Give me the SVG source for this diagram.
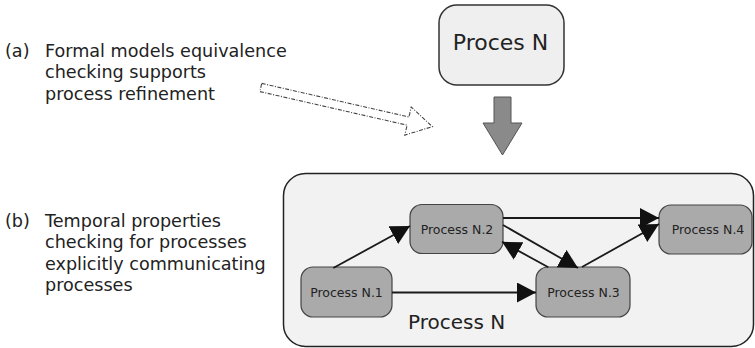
<svg xmlns="http://www.w3.org/2000/svg" width="755" height="348" viewBox="0 0 755 348">
<style>
  text { font-family: "DejaVu Sans", Verdana, sans-serif; fill: #222; }
  .side { font-size: 17.6px; }
  .node rect { fill: #aaaaaa; stroke: #444; stroke-width: 1.2; }
  .node text { font-size: 12.5px; text-anchor: middle; }
  .conn line { stroke: #1a1a1a; stroke-width: 1.8; marker-end: url(#ah); }
</style>
<defs>
  <marker id="ah" markerUnits="userSpaceOnUse" markerWidth="19" markerHeight="20" refX="19" refY="10" orient="auto" viewBox="0 0 19 20">
    <path d="M0,0 L19,10 L0,20 z" fill="#111"/>
  </marker>
</defs>
<rect width="755" height="348" fill="#ffffff"/>

<g id="label-a">
  <text class="side" x="5" y="56.5">(a)</text>
  <text class="side" x="45" y="56.5">Formal models equivalence</text>
  <text class="side" x="45" y="78.3">checking supports</text>
  <text class="side" x="45" y="100">process refinement</text>
</g>
<g id="label-b">
  <text class="side" x="5" y="226.5">(b)</text>
  <text class="side" x="45" y="226.5">Temporal properties</text>
  <text class="side" x="45" y="248">checking for processes</text>
  <text class="side" x="45" y="269.5">explicitly communicating</text>
  <text class="side" x="45" y="291">processes</text>
</g>

<g id="refine-arrow" transform="translate(260.8,87.5) rotate(12.85)">
  <polygon points="0,-4.2 151,-4.2 151,-14.4 176,0 151,14.4 151,4.2 0,4.2" fill="#ffffff" stroke="#444" stroke-width="1.1" stroke-dasharray="4 1.5 1 1.5"/>
</g>

<g id="proces-n-top">
  <rect x="439" y="5" width="125" height="80" rx="18" fill="#efefef" stroke="#333" stroke-width="1.5"/>
  <text x="500.5" y="50" font-size="22" text-anchor="middle">Proces N</text>
</g>

<g id="down-arrow">
  <polygon points="494,97 511,97 511,123 522,123 502.5,155 483,123 494,123" fill="#8a8a8a" stroke="#555" stroke-width="1"/>
</g>

<g id="process-n">
  <rect x="283.5" y="173.5" width="470" height="173" rx="22" fill="#f2f2f2" stroke="#222" stroke-width="1.5"/>
  <text x="408" y="329.3" font-size="20">Process N</text>
</g>

<g id="n1" class="node">
  <rect x="301" y="267" width="91" height="50" rx="12"/>
  <text x="346.5" y="296.5">Process N.1</text>
</g>
<g id="n2" class="node">
  <rect x="410" y="204.5" width="93" height="49" rx="12"/>
  <text x="457" y="234">Process N.2</text>
</g>
<g id="n3" class="node">
  <rect x="536" y="267" width="94" height="50" rx="12"/>
  <text x="583.5" y="296.5">Process N.3</text>
</g>
<g id="n4" class="node">
  <rect x="659" y="205" width="93" height="49" rx="12"/>
  <text x="708" y="233.5">Process N.4</text>
</g>

<g id="connectors" class="conn">
  <line x1="333.3" y1="268" x2="410" y2="226"/>
  <line x1="392" y1="292.5" x2="536" y2="292.5"/>
  <line x1="503" y1="218" x2="659" y2="218"/>
  <line x1="503" y1="225" x2="578" y2="268"/>
  <line x1="548.3" y1="267.3" x2="502" y2="241.8"/>
  <line x1="582" y1="267" x2="659" y2="224"/>
</g>
</svg>
